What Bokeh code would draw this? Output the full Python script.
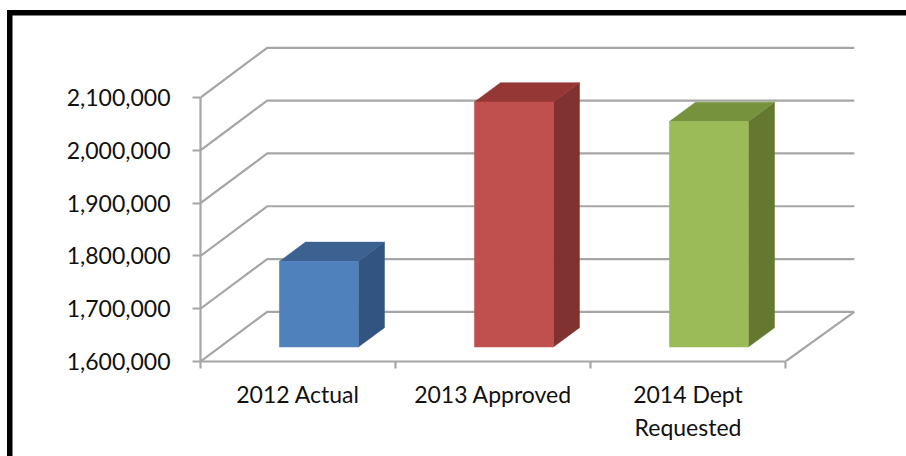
from bokeh.embed import file_html
from bokeh.models import FixedTicker, LinearAxis, NumeralTickFormatter, Range1d
from bokeh.plotting import figure
from bokeh.resources import INLINE

# Budget totals by stage
categories = ["2012 Actual", "2013 Approved", "2014 Dept\nRequested"]
budget = [1762000, 2064000, 2027000]
value_ticks = [1600000, 1700000, 1800000, 1900000, 2000000, 2100000]

front_colors = ["#4f81bd", "#c0504d", "#9bbb59"]
side_colors = ["#325480", "#7f3230", "#65782f"]
top_colors = ["#3c6291", "#953735", "#76923c"]

FONT = "Lato"
FONT_SIZE = "23px"
LINE = "#a6a6a6"

# Oblique projection of the chart's depth, in axis units
WALL_DX, WALL_DX_FAR, WALL_DY = 0.342, 0.353, 94000
BAR_DX, BAR_DY = 0.134, 36600
BAR_WIDTH, BAR_SHIFT, BAR_LIFT = 0.405, 0.107, 27500

BASE = value_ticks[0]
n = len(categories)

# The heavy black rule along the top and left is painted behind a transparent canvas
p = figure(
    width=906, height=456, output_backend="svg", toolbar_location=None,
    x_axis_location=None, y_axis_location=None,
    x_range=Range1d(0, 660 / 195), y_range=Range1d(BASE, BASE + 341 / 52.8 * 100000),
    min_border_left=200, min_border_right=46, min_border_top=20, min_border_bottom=95,
    outline_line_color=None, background_fill_color="white", border_fill_alpha=0,
    styles={
        "background-color": "white",
        "background-image": "linear-gradient(black, black), linear-gradient(black, black)",
        "background-size": "899px 5.5px, 5.5px 447px",
        "background-position": "7px 9.5px, 7px 9.5px",
        "background-repeat": "no-repeat",
    },
)
p.grid.visible = False

# Wall gridlines running back from the value axis, and the floor outline
wall_xs = [[0, WALL_DX, n + WALL_DX_FAR] for _ in value_ticks]
wall_ys = [[v, v + WALL_DY, v + WALL_DY] for v in value_ticks]
wall_xs.append([n + WALL_DX_FAR, n])
wall_ys.append([BASE + WALL_DY, BASE])
p.multi_line(wall_xs, wall_ys, line_color=LINE, line_width=2.2)

# Extruded bars stand slightly into the floor, so the front face is lifted by BAR_LIFT
lefts = [i + 0.5 + BAR_SHIFT - BAR_WIDTH / 2 for i in range(n)]
rights = [x + BAR_WIDTH for x in lefts]
bottom = BASE + BAR_LIFT
tops = [v + BAR_LIFT for v in budget]
p.patches(
    [[r, r + BAR_DX, r + BAR_DX, r] for r in rights],
    [[bottom, bottom + BAR_DY, t + BAR_DY, t] for t in tops],
    fill_color=side_colors, line_color=side_colors, line_width=0.5,
)
p.patches(
    [[l, l + BAR_DX, r + BAR_DX, r] for l, r in zip(lefts, rights)],
    [[t, t + BAR_DY, t + BAR_DY, t] for t in tops],
    fill_color=top_colors, line_color=top_colors, line_width=0.5,
)
p.quad(
    left=lefts, right=rights, bottom=bottom, top=tops,
    fill_color=front_colors, line_color=front_colors, line_width=0.5,
)

y_axis = LinearAxis(
    ticker=FixedTicker(ticks=value_ticks),
    formatter=NumeralTickFormatter(format="0,0"),
    bounds=(value_ticks[0], value_ticks[-1]),
    axis_line_color=LINE, axis_line_width=2.2,
    major_tick_line_color=LINE, major_tick_line_width=2.2,
    major_tick_out=8, major_tick_in=0, minor_tick_out=0, minor_tick_in=0,
    major_label_standoff=22,
    major_label_text_font=FONT, major_label_text_font_size=FONT_SIZE,
    major_label_text_color="#111111",
)
p.add_layout(y_axis, "left")

# Labels sit mid-category, tick marks fall on the category boundaries
label_positions = [i + 0.5 for i in range(n)]
x_axis = LinearAxis(
    ticker=FixedTicker(ticks=label_positions, minor_ticks=list(range(n + 1))),
    major_label_overrides=dict(zip(label_positions, categories)),
    bounds=(0, n),
    axis_line_color=LINE, axis_line_width=2.2,
    major_tick_out=0, major_tick_in=0,
    minor_tick_line_color=LINE, minor_tick_line_width=2.2,
    minor_tick_out=7, minor_tick_in=0,
    major_label_standoff=11,
    major_label_text_font=FONT, major_label_text_font_size=FONT_SIZE,
    major_label_text_color="#111111",
)
p.add_layout(x_axis, "below")

open("out.html", "w").write(file_html(p, INLINE))
